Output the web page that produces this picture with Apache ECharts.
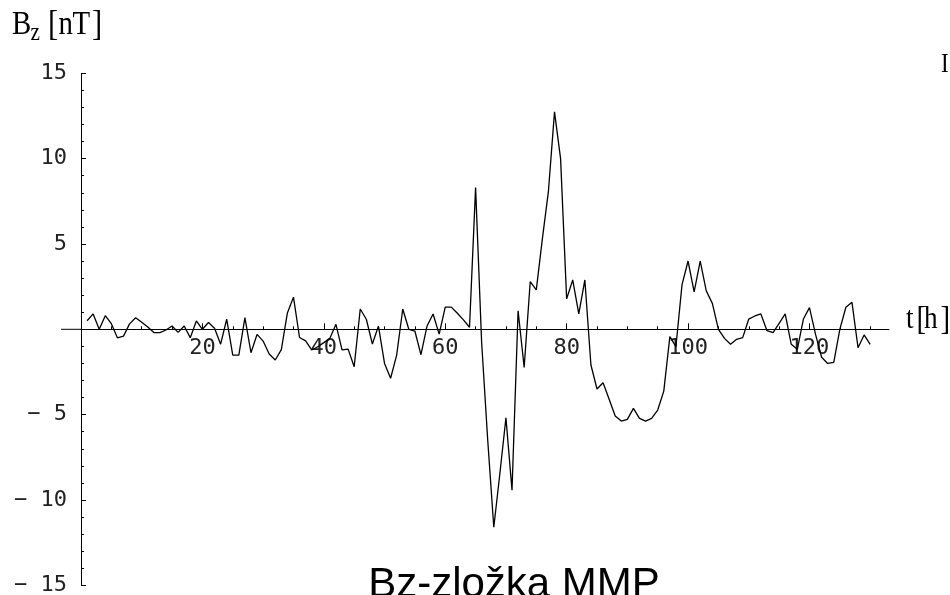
<!DOCTYPE html>
<html><head><meta charset="utf-8">
<script src="https://cdn.jsdelivr.net/npm/echarts@6/dist/echarts.min.js"></script>
<style>html,body{margin:0;padding:0;background:#fff}#c{width:950px;height:595px}</style>
</head><body><div id="c"></div>
<script>
// hourly samples, first sample at t = 1 h
const firstHour = 1;
const bz = [
  0.5, 0.9, 0.0, 0.8, 0.33, -0.5, -0.4, 0.32, 0.68, 0.41,
  0.14, -0.19, -0.19, -0.04, 0.19, -0.18, 0.19, -0.49, 0.49, 0.0,
  0.4, 0.06, -0.87, 0.59, -1.51, -1.51, 0.69, -1.37, -0.3, -0.69,
  -1.45, -1.8, -1.19, 0.96, 1.88, -0.48, -0.68, -1.21, -1.02, -0.78,
  -0.53, 0.29, -1.21, -1.16, -2.19, 1.19, 0.59, -0.86, 0.19, -2.0,
  -2.87, -1.51, 1.19, 0.0, -0.1, -1.49, 0.19, 0.9, -0.28, 1.3,
  1.3, 0.94, 0.55, 0.12, 8.3, -0.8, -6.5, -11.6, -8.45, -5.18,
  -9.43, 1.09, -2.23, 2.79, 2.31, 5.3, 8.1, 12.74, 10.0, 1.78,
  2.89, 0.9, 2.89, -2.09, -3.5, -3.13, -4.1, -5.08, -5.38, -5.28,
  -4.63, -5.22, -5.38, -5.22, -4.73, -3.62, -0.43, -1.02, 2.6, 4.0,
  2.2, 4.0, 2.25, 1.52, 0.0, -0.53, -0.88, -0.59, -0.49, 0.6,
  0.78, 0.9, -0.08, -0.2, 0.35, 0.9, -0.88, -1.17, 0.6, 1.27,
  -0.3, -1.64, -2.0, -1.94, 0.0, 1.29, 1.58, -1.08, -0.33, -0.88
];
const xLabelValues = [20, 40, 60, 80, 100, 120];
const xMinorTickValues = [5, 10, 15, 25, 30, 35, 45, 50, 55, 65, 70, 75, 85, 90, 95, 105, 110, 115, 125, 130];
const yMin = -15, yMax = 15, yStep = 5;
const xMin = 0, xMax = 133.1;
const yLabelParts = ['B', 'z', '[', 'n', 'T', ']'];
const xLabelParts = ['t', '[', 'h', ']'];
const captionText = 'Bz-zložka MMP';
const cutText = 'I';

const seriesData = bz.map((v, i) => [firstHour + i, v]);

const chart = echarts.init(document.getElementById('c'), null, {renderer: 'canvas'});
const tickFont = {fontFamily: 'DejaVu Sans Mono', fontSize: 22, color: '#222'};
const serif = '"Liberation Serif", "DejaVu Serif", serif';

function glyph(text, x, baseline, size, sx) {
  return {
    type: 'text', x: x, y: baseline - 0.33 * size, scaleX: sx || 0.85, originX: 0,
    style: {text: text, font: size + 'px ' + serif, fill: '#000', textAlign: 'left', textVerticalAlign: 'middle'}
  };
}

chart.setOption({
  animation: false,
  backgroundColor: '#fff',
  grid: {left: 81, right: 61, top: 73.3, bottom: 9.7, containLabel: false, outerBoundsMode: 'none'},
  xAxis: [{
    type: 'value', min: xMin, max: xMax, position: 'bottom',
    axisLine: {show: true, onZero: true, onZeroAxisIndex: 0, lineStyle: {color: '#000', width: 1}},
    axisTick: {show: true, inside: true, length: 3, customValues: xMinorTickValues, lineStyle: {color: '#000', width: 1}},
    axisLabel: Object.assign({customValues: xLabelValues, margin: 8}, tickFont),
    splitLine: {show: false}
  }, {
    type: 'value', min: xMin, max: xMax, position: 'top',
    axisLine: {show: false, onZero: true, onZeroAxisIndex: 0},
    axisTick: {show: true, inside: false, length: 6, customValues: xLabelValues, lineStyle: {color: '#000', width: 1}},
    axisLabel: {show: false},
    splitLine: {show: false}
  }],
  yAxis: {
    type: 'value', min: yMin, max: yMax, interval: yStep,
    axisLine: {show: true, onZero: false, lineStyle: {color: '#000', width: 1}},
    axisTick: {show: true, inside: true, length: 5, lineStyle: {color: '#000', width: 1}},
    minorTick: {show: true, splitNumber: 5, length: 3, lineStyle: {color: '#000', width: 1}},
    axisLabel: Object.assign({
      margin: 14,
      formatter: v => v === 0 ? '' : (v < 0 ? '\u2212 ' + Math.abs(v) : String(v))
    }, tickFont),
    splitLine: {show: false},
    minorSplitLine: {show: false}
  },
  series: [{
    type: 'line', xAxisIndex: 0, data: seriesData, showSymbol: false, symbol: 'none',
    lineStyle: {color: '#000', width: 1.3}, clip: false
  }]
});

const p0 = chart.convertToPixel({xAxisIndex: 0, yAxisIndex: 0}, [0, 0]);
const bottomPx = chart.convertToPixel({yAxisIndex: 0}, yMin);
const labelShift = bottomPx - p0[1];
chart.setOption({
  xAxis: [{axisLabel: {margin: 8 - labelShift}}, {}],
  graphic: [
    {type: 'line', shape: {x1: p0[0] - 20, y1: p0[1], x2: p0[0], y2: p0[1]}, style: {stroke: '#000', lineWidth: 1}},
    glyph(yLabelParts[0], 12, 36.7, 34),
    glyph(yLabelParts[1], 30.5, 41.7, 25),
    glyph(yLabelParts[2], 48, 37, 36),
    glyph(yLabelParts[3], 58.5, 36.7, 34),
    glyph(yLabelParts[4], 72.5, 36.7, 34),
    glyph(yLabelParts[5], 92, 37, 36),
    glyph(xLabelParts[0], 906, 330, 32),
    glyph(xLabelParts[1], 916.5, 331, 34),
    glyph(xLabelParts[2], 924, 330, 32),
    glyph(xLabelParts[3], 940.5, 331, 34),
    glyph(cutText, 941, 74, 27),
    {type: 'text', x: 514, y: 600 - 0.35 * 42,
     style: {text: captionText, font: '42px "Liberation Sans", Arial, sans-serif', fill: '#000', textAlign: 'center', textVerticalAlign: 'middle'}}
  ]
});
</script>
</body></html>
